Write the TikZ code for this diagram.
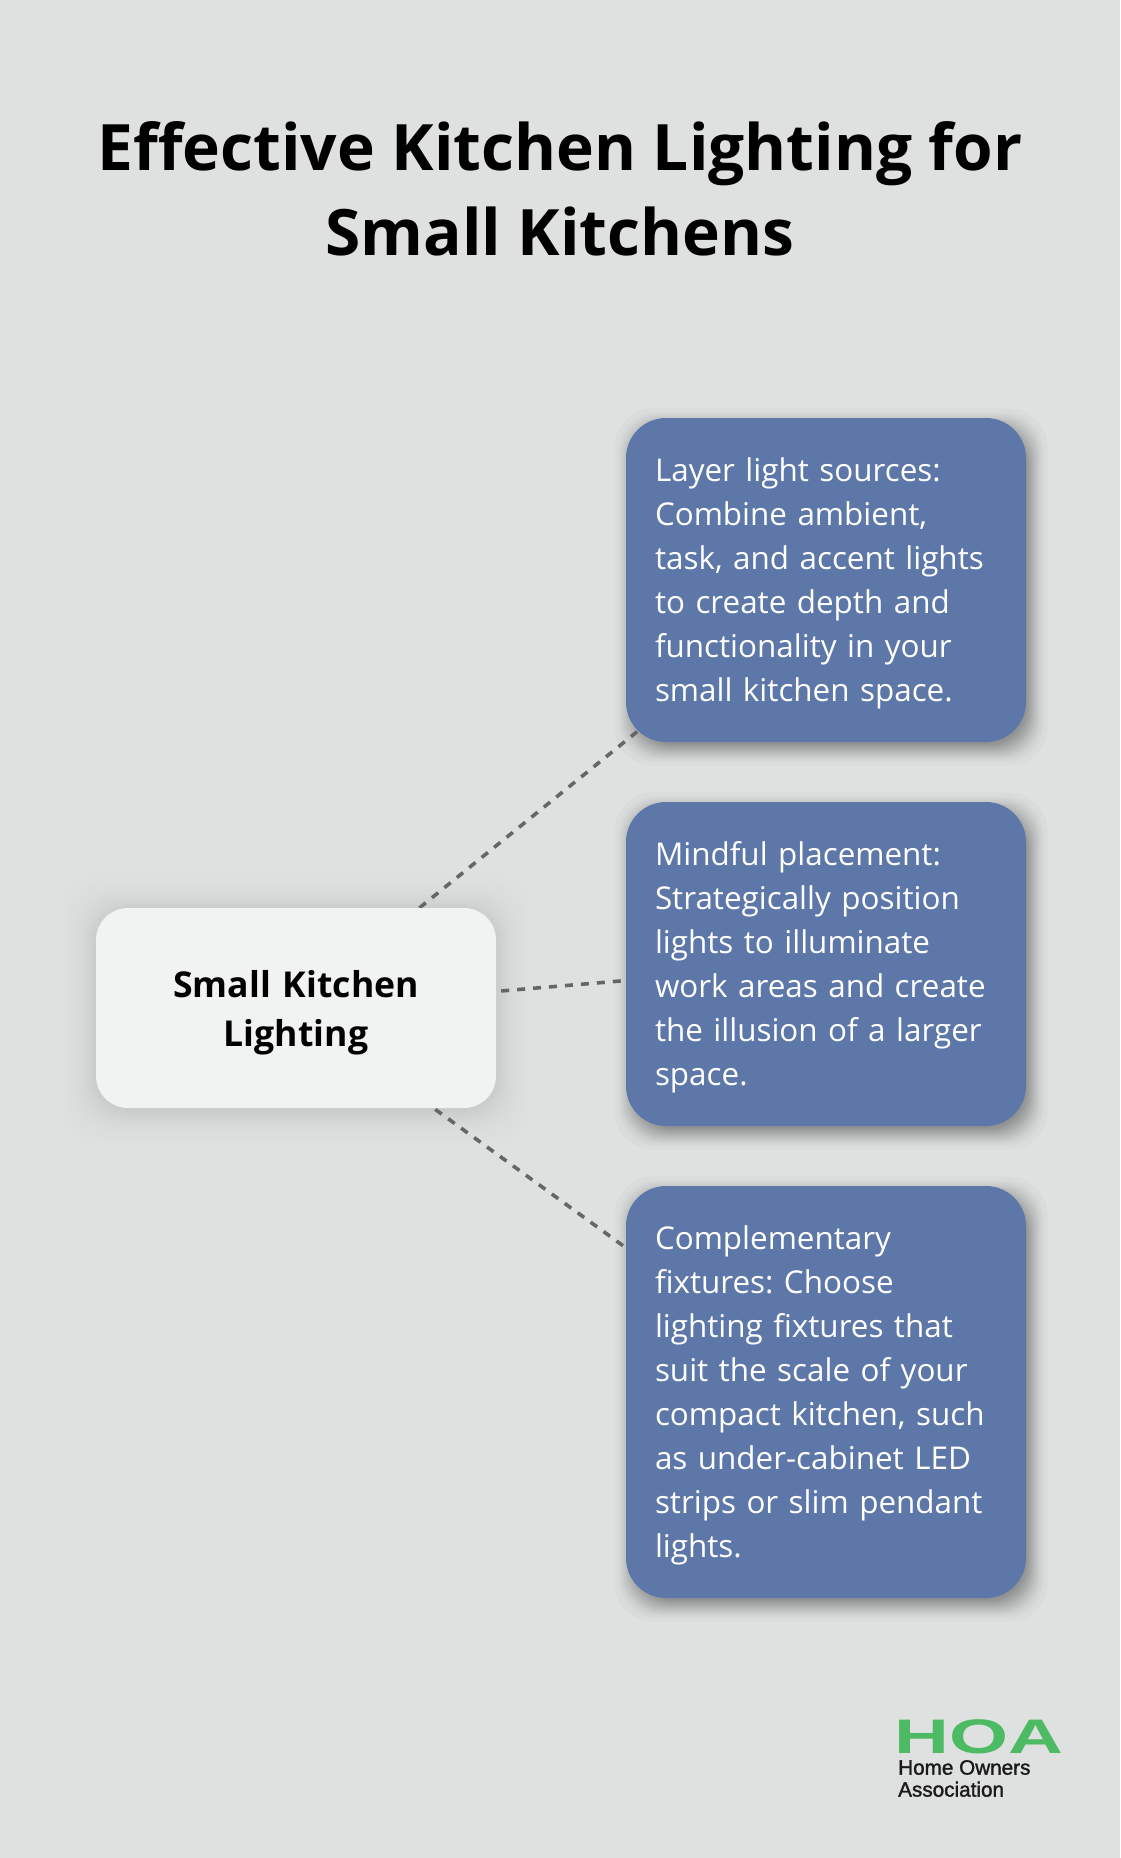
\documentclass[tikz,border=0pt]{standalone}
\usepackage{fontspec}
\setmainfont{Open Sans}
\newfontfamily\logofont{Liberation Sans}
\newfontfamily\logosubfont[FakeBold=1.5]{Liberation Sans}
\pgfdeclarelayer{bglayer}
\pgfdeclarelayer{shadowlayer}
\pgfdeclarelayer{connlayer}
\pgfsetlayers{bglayer,shadowlayer,connlayer,main}
\definecolor{bgc}{HTML}{DEE1E0}
\definecolor{bluec}{HTML}{5D77A8}
\definecolor{centerc}{HTML}{F1F3F2}
\definecolor{linec}{HTML}{666666}
\definecolor{greenc}{HTML}{4DBB63}
\definecolor{logotext}{HTML}{1A1A1A}
\frenchspacing
\tikzset{
  titletext/.style={align=center,text=black,inner sep=0pt,font=\fontsize{64}{85}\bfseries\selectfont},
  bluebox/.style={fill=bluec,rounded corners=40pt,minimum width=400pt,inner sep=0pt,text=white,align=left,
    text width=342pt,font=\fontsize{31.4}{44}\selectfont,execute at begin node={\rule{0pt}{31.5pt}}},
  centerbox/.style={fill=centerc,rounded corners=32pt,minimum width=400pt,minimum height=200pt,inner sep=0pt,text=black,align=center,
    text width=380pt,font=\fontsize{35.6}{48.6}\bfseries\selectfont,execute at begin node={\rule{0pt}{37pt}}},
  conn/.style={draw=linec,line width=3.6pt,dash pattern=on 8pt off 8pt},
  logohoa/.style={inner sep=0pt,text=greenc,anchor=base west,xscale=1.565,font=\fontsize{48.5}{48.5}\logofont\bfseries\selectfont},
  logosub/.style={inner sep=0pt,text=logotext,anchor=south west,align=left,font=\fontsize{20.7}{22}\logosubfont\selectfont}
}
\newcommand{\softshadow}[6]{% node, dx, dy, steps list, opacity, corner radius
  \begin{pgfonlayer}{shadowlayer}
  \foreach \e in #4 {
    \fill[black,opacity=#5,rounded corners=#6]
      ([shift={(#2-\e,-#3-\e)}]#1.south west) rectangle ([shift={(#2+\e,-#3+\e)}]#1.north east);
  }
  \end{pgfonlayer}
}
\newcommand{\blueblur}{16.3pt,12.2pt,10.1pt,8.4pt,7.1pt,5.9pt,4.9pt,3.9pt,3pt,2.1pt,1.3pt,.4pt,-.4pt,-1.3pt,-2.1pt,-3pt,-3.9pt,-4.9pt,-5.9pt,-7.1pt,-8.4pt,-10.1pt,-12.2pt,-16.3pt}
\newcommand{\hubblur}{34pt,30pt,27.4pt,23pt,20.2pt,18pt,16.1pt,14.5pt,13pt,11.8pt,10.6pt,9.5pt,8.4pt,7.3pt,6.3pt,5.4pt,4.5pt,3.6pt,2.7pt,1.8pt,.8pt,0pt}
\begin{document}
\begin{tikzpicture}[x=1pt,y=-1pt]
\useasboundingbox (0,0) rectangle (1120,1858);
\begin{pgfonlayer}{bglayer}
\fill[bgc] (0,0) rectangle (1120,1858);
\end{pgfonlayer}
\node[titletext] (title) at (560,189) {Effective Kitchen Lighting for\\Small Kitchens};
\node[centerbox] (hub) at (296,1008) {Small Kitchen\\Lighting};
\node[bluebox,minimum height=324pt] (b1) at (826,580) {Layer light sources:\\Combine ambient,\\task, and accent lights\\to create depth and\\functionality in your\\small kitchen space.};
\node[bluebox,minimum height=324pt] (b2) at (826,964) {Mindful placement:\\Strategically position\\lights to illuminate\\work areas and create\\the illusion of a larger\\space.};
\node[bluebox,minimum height=412pt] (b3) at (826,1392) {Complementary\\fixtures: Choose\\lighting fixtures that\\suit the scale of your\\compact kitchen, such\\as under-cabinet LED\\strips or slim pendant\\lights.};
\softshadow{b1}{5pt}{7pt}{\blueblur}{0.02}{38pt}
\softshadow{b2}{5pt}{7pt}{\blueblur}{0.02}{38pt}
\softshadow{b3}{5pt}{7pt}{\blueblur}{0.02}{38pt}
\softshadow{hub}{0pt}{2pt}{\hubblur}{0.0055}{38pt}
\begin{pgfonlayer}{connlayer}
\draw[conn,shorten >=-15pt] (hub) -- (b1);
\draw[conn,shorten <=5pt,shorten >=4pt] (hub) -- (b2);
\draw[conn,shorten <=2pt,shorten >=0pt] (hub) -- (b3);
\end{pgfonlayer}
\node[logohoa] (hoa) at (894,1753) {HOA};
\node[logosub] (sub) at (898,1797) {Home Owners\\Association};
\end{tikzpicture}
\end{document}
